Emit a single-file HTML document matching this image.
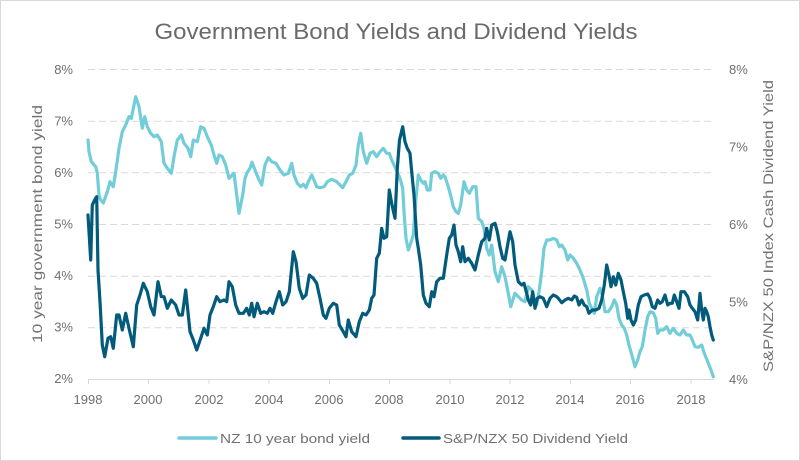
<!DOCTYPE html>
<html><head><meta charset="utf-8"><style>
html,body{margin:0;padding:0;background:#fff;}
svg{display:block;}
text{font-family:"Liberation Sans",sans-serif;fill:#6f6f6f;}
</style></head><body>
<svg width="800" height="461" viewBox="0 0 800 461" xmlns="http://www.w3.org/2000/svg">
<rect x="0.5" y="0.5" width="799" height="460" fill="#fff" stroke="#d9d9d9" stroke-width="1"/>
<text x="396" y="39" font-size="22" text-anchor="middle" textLength="483" lengthAdjust="spacingAndGlyphs" style="fill:#6a6a6a">Government Bond Yields and Dividend Yields</text>
<g stroke="#d9d9d9" stroke-width="1" stroke-dasharray="7,4">
<line x1="88" y1="69.5" x2="713" y2="69.5"/>
<line x1="88" y1="121.2" x2="713" y2="121.2"/>
<line x1="88" y1="172.8" x2="713" y2="172.8"/>
<line x1="88" y1="224.5" x2="713" y2="224.5"/>
<line x1="88" y1="276.2" x2="713" y2="276.2"/>
<line x1="88" y1="327.8" x2="713" y2="327.8"/>
</g>
<line x1="88" y1="379.5" x2="714" y2="379.5" stroke="#d9d9d9" stroke-width="1"/>
<g stroke="#d9d9d9" stroke-width="1">
<line x1="88.5" y1="379" x2="88.5" y2="384"/><line x1="148.5" y1="379" x2="148.5" y2="384"/><line x1="209" y1="379" x2="209" y2="384"/><line x1="269" y1="379" x2="269" y2="384"/><line x1="329.5" y1="379" x2="329.5" y2="384"/><line x1="389.5" y1="379" x2="389.5" y2="384"/><line x1="450" y1="379" x2="450" y2="384"/><line x1="510" y1="379" x2="510" y2="384"/><line x1="570.5" y1="379" x2="570.5" y2="384"/><line x1="630.5" y1="379" x2="630.5" y2="384"/><line x1="691" y1="379" x2="691" y2="384"/>
</g>
<g font-size="13" text-anchor="middle" style="fill:#7a7a7a">
<text x="88" y="404">1998</text><text x="148" y="404">2000</text><text x="209" y="404">2002</text><text x="269" y="404">2004</text><text x="329" y="404">2006</text><text x="389" y="404">2008</text><text x="450" y="404">2010</text><text x="510" y="404">2012</text><text x="570" y="404">2014</text><text x="630" y="404">2016</text><text x="691" y="404">2018</text>
</g>
<g font-size="13" text-anchor="end" style="fill:#7a7a7a">
<text x="73" y="74">8%</text><text x="73" y="125.5">7%</text><text x="73" y="177">6%</text><text x="73" y="228.5">5%</text><text x="73" y="280">4%</text><text x="73" y="331.5">3%</text><text x="73" y="383">2%</text>
</g>
<g font-size="13" text-anchor="start" style="fill:#7a7a7a">
<text x="729" y="74">8%</text><text x="729" y="151.5">7%</text><text x="729" y="229">6%</text><text x="729" y="306.5">5%</text><text x="729" y="384">4%</text>
</g>
<text transform="translate(42,224) rotate(-90)" font-size="14" text-anchor="middle" textLength="238" lengthAdjust="spacingAndGlyphs" style="fill:#737373">10 year government  bond yield</text>
<text transform="translate(773,226) rotate(-90)" font-size="14" text-anchor="middle" textLength="292" lengthAdjust="spacingAndGlyphs" style="fill:#737373">S&amp;P/NZX 50 Index Cash Dividend Yield</text>
<polyline fill="none" stroke="#72cdd8" stroke-width="3.2" stroke-linejoin="round" stroke-linecap="round" points="88,140 89,151.7 91.3,161.7 95.7,166.7 97.3,173 99,195 100.7,200 103.3,203 107.3,191.7 110,181.7 113.3,186.7 115.7,171.7 119,148.3 122.3,131.7 125.7,125 129,116.7 131.3,118.3 134,105 135.7,96.7 139,106.7 142.3,128.3 144.7,116.7 147.3,126.7 150.7,133.3 154,136.7 157.3,135 161.3,141.7 164,163.3 167.3,168.3 171.3,173.3 174,156.7 177.3,140 181.3,135 184,143.3 188,148.3 190.7,156.7 193.3,140 197.3,141.7 200.7,126.7 204,128.3 208,138.3 211.3,145 214,155 216.7,163.3 219,155 222.3,156.7 225.7,165 229,178.3 234,173.3 239,213.3 242.7,195 245,178.3 247.3,172.3 250,168.3 252,162.3 255,170 258.3,178.3 261.7,185 265,165 268.3,157.7 271.7,161.7 276,163.3 280,170 284,175 288.3,173.3 291.7,163.3 294,175 297.3,183.3 300.7,186.7 303.3,184.3 306,187.7 308.3,181.7 311.7,175 314,180 316.7,186.7 320,187.7 324,186.7 327.3,181.7 331.7,179.3 336.7,181.7 340,185 342.7,187.7 346,181.7 349.3,175 352.7,173.3 356,165 358.3,145 360.7,133.3 363.3,151.7 366.7,163.3 370,153.3 373.3,151.7 376.7,156.7 380,151.7 383.3,148.3 386.7,153.3 389.3,153.3 391.7,160 395,167 400,178.3 402.7,188.3 404,211.7 406,238.3 408.3,250 410.7,243.3 413.3,235 416,198.3 418.3,175 420.7,180 423.3,183.3 425,181.7 427.3,190 430,190 431.7,173.3 435,171.7 438.3,173.3 440.7,178.3 443.3,175 445,176.7 448.3,186.7 451,196.7 453.3,206.7 456,211.7 458.3,213.3 460.7,205 464,181.7 466.7,190 469.3,193.3 472.7,186.7 476,186.7 478.3,218.3 481.7,221.7 484,228.3 486.7,248.3 489.3,255 491.7,245 495,271.7 498.3,281.7 501.7,266.7 505,276.7 508.3,293.3 510.7,306.7 515,293.3 518.3,296.7 521.7,300 525,301.7 528.3,286.7 531.7,290 534,298.3 536.7,305 539.3,290 541.7,271.7 544,248.3 546.7,240 550,240 553.3,238.3 556.7,240 559.3,246.7 561.7,245 565,250 567.7,260 570,255 573.3,258.3 576.7,263.3 580,270 583.3,278.3 586.7,290 589.3,303.3 591.7,308.3 594.3,313.3 596.7,296.7 600,288.3 602.3,295 605,311.7 608.3,311.7 611.7,306.7 614.3,300 616.7,305 619,318.3 621.7,325 624.3,328.3 626.7,335 629,345 632.3,356.7 635,366.7 637.7,360 640,351.7 642.3,346.7 645,330 647.7,316.7 650,311.7 653.3,312.7 655.7,318.3 657.7,333.3 660,330 663.3,330 666.7,326.7 670,333.3 673.3,328.3 676.7,333.3 680,335 683.3,330 686.7,335 690,335 692.3,340 695,346.7 698.3,347.3 701.7,345 704.3,353.3 707.7,361.7 711,370 713.3,376.7"/>
<polyline fill="none" stroke="#035b7b" stroke-width="3.2" stroke-linejoin="round" stroke-linecap="round" points="88,215 90.7,260 92.3,205 94.7,200 96.7,196.7 98,270 100,301.7 102.3,345 104.7,356.7 108,338.3 110.7,336.7 113.3,348.3 116.7,315 119,315 122.3,330 125.7,313.3 129,328.3 133.3,346.7 136.7,305 140,295 143.3,283.3 147.3,291.7 150.7,306.7 154,315 158,281.7 161.3,296.7 164,296.7 167.3,308.3 171.3,300 175.7,305 179,315 182.3,315 185.7,290 190,331.7 193.3,340 196.7,350 200.7,338.3 204,328.3 207.3,335 210,315 213.3,306.7 216.7,296.7 220,301.7 224,300 226.7,301.7 229,281.7 232.3,286.7 235.7,305 239,313.3 243.3,313.3 246.7,308.3 249.3,315 251.7,303.3 254,316.7 257.3,303.3 260.7,313.3 264,311.7 267.3,313.3 270,308.3 272.7,313.3 276,301.7 279.3,291.7 282.7,305 286,301.7 289.3,291.7 293.3,251.7 296,261.7 299.3,288.3 302.7,298.3 306,295 309.3,275 313.3,278.3 316.7,283.3 320,298.3 323.3,315 326,318.3 329.3,308.3 333.3,303.3 336.7,305 339.3,325 343.3,331.7 346,336.7 348.3,320 351.7,331.7 356,336.7 359.3,321.7 362.7,313.3 366,315 369.3,310 371.7,298.3 374,295 376.7,258.3 379.3,253.3 381.7,228.3 384,238.3 386.7,236.7 389.3,190 392,205 395,218.3 397.3,168.3 399.5,140 402.7,126.7 405,141.7 407.3,148.3 410,153.3 411.7,171.7 414,195 416.7,238.3 418.3,248.3 420.7,265 423.3,295 426,303.3 429.3,306.7 431.7,291.7 434,296.7 436.7,281.7 440,278.3 443.3,278.3 446.7,255 449.3,238.3 451.7,235 454,225 456,245 458.3,251.7 460.7,261.7 462.7,246.7 465,261.7 468.3,258.3 471.7,263.3 475,270 478.3,255 481.7,241.7 485,238.3 486.7,228.3 489.3,240 491.7,225 495,223.3 497.3,231.7 500,246.7 502.7,258.3 505,260 507.3,246.7 510,231.7 512.7,241.7 515,265 518.3,281.7 521.7,285 524,283.3 526.7,293.3 528.3,300 530.7,305 532.7,291.7 535,308.3 537.3,298.3 540,296.7 543.3,298.3 546.7,306.7 550,298.3 553.3,295 556.7,296.7 558.3,298.3 561.7,302.7 565,300 568.3,298.3 571.7,300 574.3,296 576.7,297.3 579,305 581.7,300 584.3,305 586.7,306.7 589,313.3 592.3,310 595.7,310 599,308.3 601.7,300 604.3,285 606.7,265 609,275 611,286.7 613.3,276.7 615.7,285 618.3,273.3 621,280 623.3,291.7 625.7,303.3 627.7,318.3 629,310 631,320 633.3,325 635.7,320 638.3,305 641,296.7 644.3,295 647.7,294 650,298.3 652.3,306.7 655,308.3 657.7,300 660,303.3 662.3,301.7 665,295 667.7,305 670,303.3 672.3,303.3 674.3,295 676.7,301.7 679,308.3 681,291.7 684.3,291.7 687.7,296.7 690,305 692.3,308.3 695,311.7 697.7,320 700,293.3 701.7,310 703.3,320 705,308.3 706.7,311.7 708.3,316.7 710,326.7 711.7,335 713.3,340"/>
<line x1="179" y1="438" x2="216" y2="438" stroke="#72cdd8" stroke-width="3.5" stroke-linecap="round"/>
<text x="220" y="443" font-size="13" textLength="150" lengthAdjust="spacingAndGlyphs" style="fill:#707070">NZ 10 year bond yield</text>
<line x1="403" y1="438" x2="439" y2="438" stroke="#035b7b" stroke-width="3.5" stroke-linecap="round"/>
<text x="443" y="443" font-size="13" textLength="185" lengthAdjust="spacingAndGlyphs" style="fill:#707070">S&amp;P/NZX 50 Dividend Yield</text>
</svg>
</body></html>
